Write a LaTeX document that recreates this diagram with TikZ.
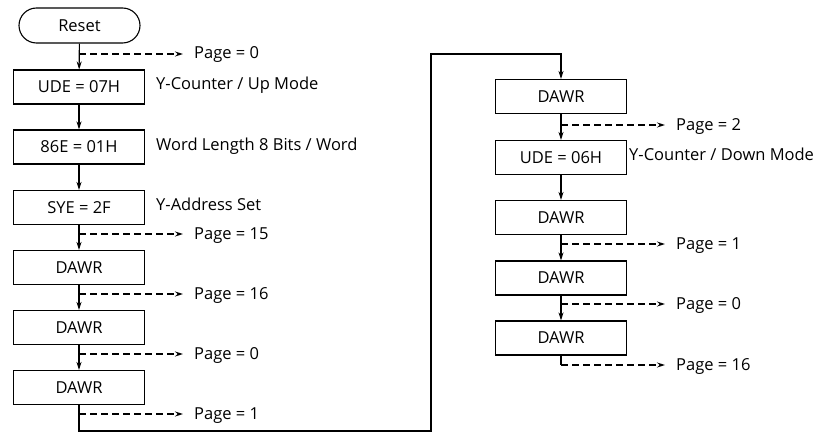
\documentclass[tikz,border=0pt]{standalone}
\usepackage{fontspec}
\setmainfont{Open Sans}
\usetikzlibrary{arrows.meta,shapes.misc}
\begin{document}
\begin{tikzpicture}[x=1pt,y=-1pt,
  font=\fontsize{16.5}{18}\selectfont,
  box/.style={draw,line width=1.1pt,minimum width=131pt,minimum height=34pt,inner sep=0pt},
  term/.style={draw,line width=1.1pt,rounded rectangle,minimum width=121pt,minimum height=35pt,inner sep=0pt},
  flow/.style={line width=1.1pt,-{Stealth[length=8pt,width=5pt]}},
  branch/.style={line width=1.2pt,dash pattern=on 7pt off 4pt,-{Stealth[length=8pt,width=5pt]},shorten >=11pt},
  plain/.style={line width=1.1pt},
  lbl/.style={anchor=base west,inner sep=0pt}]
\useasboundingbox (0,0) rectangle (834,433);
% left column
\node[term] (reset) at (79.5,25.5) {Reset};
\node[box] (u07) at (79,87) {UDE = 07H};
\node[box] (e86) at (79,147) {86E = 01H};
\node[box] (sye) at (79,207.5) {SYE = 2F};
\node[box] (d1) at (79,267.5) {DAWR};
\node[box] (d2) at (79,327.5) {DAWR};
\node[box] (d3) at (79,387.5) {DAWR};
% right column
\node[box] (r1) at (561,96.5) {DAWR};
\node[box] (u06) at (561,157.5) {UDE = 06H};
\node[box] (r3) at (561,217.5) {DAWR};
\node[box] (r4) at (561,278) {DAWR};
\node[box] (r5) at (561,338) {DAWR};
% side labels
\node[lbl] (t1) at (156,90) {Y-Counter / Up Mode};
\node[lbl] (t2) at (156,150) {Word Length 8 Bits / Word};
\node[lbl] (t3) at (156,210) {Y-Address Set};
\node[lbl] (t4) at (629,160) {Y-Counter / Down Mode};
% page labels
\node[lbl] (p0) at (194,59) {Page = 0};
\node[lbl] (p15) at (194,239) {Page = 15};
\node[lbl] (p16) at (194,299) {Page = 16};
\node[lbl] (p0b) at (194,359) {Page = 0};
\node[lbl] (p1) at (194,419) {Page = 1};
\node[lbl] (q2) at (676,130) {Page = 2};
\node[lbl] (q1) at (676,249) {Page = 1};
\node[lbl] (q0) at (676,309) {Page = 0};
\node[lbl] (q16) at (676,370) {Page = 16};
% branch points
\coordinate (b0) at (79,54);
\coordinate (b15) at (79,234);
\coordinate (b16) at (79,294);
\coordinate (b0b) at (79,354);
\coordinate (b1) at (79,414);
\coordinate (c2) at (561,125);
\coordinate (c1) at (561,244);
\coordinate (c0) at (561,304);
\coordinate (c16) at (561,365);
\coordinate (k1) at (79,431);
\coordinate (k2) at (431,431);
\coordinate (k3) at (431,54);
\coordinate (k4) at (561,54);
% flow
\draw[flow] (reset) -- (u07);
\draw[flow] (u07) -- (e86);
\draw[flow] (e86) -- (sye);
\draw[flow] (sye) -- (d1);
\draw[flow] (d1) -- (d2);
\draw[flow] (d2) -- (d3);
\draw[flow] (d3.south) -- (k1) -- (k2) -- (k3) -- (k4) -- (r1.north);
\draw[flow] (r1) -- (u06);
\draw[flow] (u06) -- (r3);
\draw[flow] (r3) -- (r4);
\draw[flow] (r4) -- (r5);
\draw[plain] (r5.south) -- (c16);
% branches
\draw[branch] (b0) -- (b0 -| p0.west);
\draw[branch] (b15) -- (b15 -| p15.west);
\draw[branch] (b16) -- (b16 -| p16.west);
\draw[branch] (b0b) -- (b0b -| p0b.west);
\draw[branch] (b1) -- (b1 -| p1.west);
\draw[branch] (c2) -- (c2 -| q2.west);
\draw[branch] (c1) -- (c1 -| q1.west);
\draw[branch] (c0) -- (c0 -| q0.west);
\draw[branch] (c16) -- (c16 -| q16.west);
\end{tikzpicture}
\end{document}
